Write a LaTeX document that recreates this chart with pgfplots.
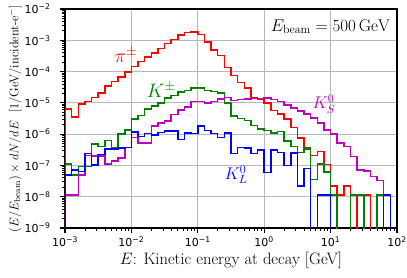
\documentclass[border=0pt]{standalone}
\usepackage{fix-cm}
\usepackage{fontspec}
\usepackage{pgfplots}
\pgfplotsset{compat=1.18}
\usepackage{pgfplotstable}
\newfontfamily\dejavu{DejaVu Sans}
\definecolor{mplred}{rgb}{1,0,0}
\definecolor{mplgreen}{rgb}{0,0.5,0}
\definecolor{mplmag}{rgb}{0.75,0,0.75}
\definecolor{mplblue}{rgb}{0,0,1}
\definecolor{gridgray}{rgb}{0.72,0.72,0.72}

% bin left edges (10 bins per decade) and bin contents; 1e-12 = empty bin
\pgfplotstableread{
x        pi       kpm      ks       kl
0.001     1e-12    1e-12    1e-12    1e-12
0.001     6.31e-6  1.12e-7  1.12e-8  5.01e-8
0.0012589 3.47e-6  5.01e-8  1.12e-8  7.08e-8
0.0015849 9.12e-6  9.33e-8  5.01e-8  6.46e-8
0.0019953 1.10e-5  9.33e-8  2.09e-7  2.45e-7
0.0025119 1.48e-5  4.79e-7  2.0e-7   1.05e-7
0.0031623 2.04e-5  3.98e-7  2.0e-7   2.24e-7
0.0039811 3.47e-5  6.31e-7  1.10e-7  3.39e-7
0.0050119 4.79e-5  3.63e-7  1.38e-7  3.39e-7
0.0063096 6.61e-5  1.02e-6  1.74e-7  3.55e-7
0.0079433 9.55e-5  1.35e-6  3.80e-7  3.80e-7
0.01      1.45e-4  3.02e-6  7.94e-7  1.15e-6
0.012589  2.09e-4  3.98e-6  5.25e-7  8.51e-7
0.015849  2.95e-4  6.31e-6  5.25e-7  1.05e-6
0.019953  3.98e-4  7.94e-6  1.82e-6  9.55e-7
0.025119  5.50e-4  1.0e-5   2.29e-6  1.12e-6
0.031623  7.76e-4  1.41e-5  2.63e-6  1.26e-6
0.039811  1.07e-3  1.70e-5  4.17e-6  1.26e-6
0.050119  1.45e-3  2.19e-5  5.89e-6  6.76e-7
0.063096  1.78e-3  2.51e-5  7.41e-6  1.07e-6
0.079433  1.86e-3  2.95e-5  1.12e-5  1.05e-6
0.1       1.51e-3  2.95e-5  1.10e-5  1.82e-6
0.12589   8.91e-4  2.51e-5  1.0e-5   1.32e-6
0.15849   4.90e-4  2.29e-5  1.12e-5  1.05e-6
0.19953   3.24e-4  2.09e-5  1.35e-5  7.94e-7
0.25119   1.35e-4  1.0e-5   1.48e-5  1.07e-6
0.31623   7.59e-5  3.80e-6  1.20e-5  2.45e-7
0.39811   4.47e-5  3.16e-6  1.26e-5  3.80e-7
0.50119   2.95e-5  2.75e-6  1.35e-5  3.55e-7
0.63096   1.51e-5  1.91e-6  1.38e-5  2.40e-7
0.79433   1.26e-5  1.45e-6  1.38e-5  3.16e-7
1         1.0e-5   1.29e-6  1.45e-5  5.89e-8
1.2589    5.62e-6  1.10e-6  1.26e-5  3.16e-7
1.5849    4.47e-6  1.23e-6  1.12e-5  2.63e-7
1.9953    3.02e-6  6.03e-7  8.51e-6  1.0e-7
2.5119    1.66e-6  4.07e-7  6.76e-6  2.51e-7
3.1623    7.59e-7  2.63e-7  5.50e-6  2.24e-8
3.9811    3.31e-7  3.55e-7  4.37e-6  7.94e-8
5.0119    2.09e-7  3.55e-8  3.31e-6  1e-12
6.3096    2.82e-7  1.10e-7  2.24e-6  1.12e-8
7.9433    1.07e-7  6.17e-8  1.38e-6  1.12e-8
10        2.24e-8  1.12e-8  1.0e-6   1e-12
12.589    1.12e-8  1e-12    5.13e-7  1e-12
15.849    2.24e-8  1e-12    4.07e-7  1e-12
19.953    1.12e-8  1.12e-8  1.95e-7  1e-12
25.119    1e-12    1.12e-8  7.24e-8  1e-12
31.623    1.12e-8  1e-12    6.76e-8  1e-12
39.811    1e-12    1e-12    4.47e-8  1e-12
50.119    1e-12    1.12e-8  3.36e-8  1e-12
63.096    1e-12    1e-12    1e-12    1.12e-8
79.433    1e-12    1e-12    1e-12    1e-12
100       1e-12    1e-12    1e-12    1e-12
100       1e-12    1e-12    1e-12    1e-12
}\hist

\begin{document}
\begin{tikzpicture}
\path[use as bounding box] (-65pt,-50pt) rectangle (342pt,228pt);
\begin{axis}[
  at={(0,0)}, anchor=south west,
  scale only axis, width=332pt, height=219pt,
  xmode=log, ymode=log,
  xmin=1e-3, xmax=1e2, ymin=1e-9, ymax=1e-2,
  xtick={1e-3,1e-2,1e-1,1,1e1,1e2},
  xticklabels={10\textsuperscript{−3},10\textsuperscript{−2},10\textsuperscript{−1},10\textsuperscript{0},10\textsuperscript{1},10\textsuperscript{2}},
  ytick={1e-9,1e-8,1e-7,1e-6,1e-5,1e-4,1e-3,1e-2},
  yticklabels={10\textsuperscript{−9},10\textsuperscript{−8},10\textsuperscript{−7},10\textsuperscript{−6},10\textsuperscript{−5},10\textsuperscript{−4},10\textsuperscript{−3},10\textsuperscript{−2}},
  minor xtick={2e-3,3e-3,4e-3,5e-3,6e-3,7e-3,8e-3,9e-3,2e-2,3e-2,4e-2,5e-2,6e-2,7e-2,8e-2,9e-2,0.2,0.3,0.4,0.5,0.6,0.7,0.8,0.9,2,3,4,5,6,7,8,9,20,30,40,50,60,70,80,90},
  minor ytick={2e-9,3e-9,4e-9,5e-9,6e-9,7e-9,8e-9,9e-9,2e-8,3e-8,4e-8,5e-8,6e-8,7e-8,8e-8,9e-8,2e-7,3e-7,4e-7,5e-7,6e-7,7e-7,8e-7,9e-7,2e-6,3e-6,4e-6,5e-6,6e-6,7e-6,8e-6,9e-6,2e-5,3e-5,4e-5,5e-5,6e-5,7e-5,8e-5,9e-5,2e-4,3e-4,4e-4,5e-4,6e-4,7e-4,8e-4,9e-4,2e-3,3e-3,4e-3,5e-3,6e-3,7e-3,8e-3,9e-3},
  tick pos=left, tick align=outside,
  major tick length=4.9pt, minor tick length=2.8pt,
  major tick style={black, line width=1.1pt},
  minor tick style={black, line width=0.8pt},
  grid=major, major grid style={gridgray, line width=1.1pt},
  minor grid style={draw=none},
  axis line style={black, line width=1.1pt},
  tick label style={font=\dejavu\fontsize{11}{12}\selectfont},
  yticklabel style={xshift=-6pt},
  xlabel={$E$: Kinetic energy at decay [GeV]},
  ylabel={$(E/E_{\mathrm{beam}})\times dN/dE$\ \ [1/GeV/incident-e$^{-}$]},
  every axis x label/.style={at={(axis description cs:0.5,0)}, anchor=base, yshift=-36pt, font=\fontsize{16.5}{20}\selectfont},
  every axis y label/.style={at={(axis description cs:-0.1506,0.5)}, rotate=90, anchor=center, font=\fontsize{12.5}{15}\selectfont},
  clip=true,
]
\addplot[const plot mark left, mplred, line width=1.5pt, no marks] table[x=x, y=pi] {\hist};
\addplot[const plot mark left, mplgreen, line width=1.5pt, no marks] table[x=x, y=kpm] {\hist};
\addplot[const plot mark left, mplmag, line width=1.5pt, no marks] table[x=x, y=ks] {\hist};
\addplot[const plot mark left, mplblue, line width=1.5pt, no marks] table[x=x, y=kl] {\hist};

\node[mplred, font=\fontsize{19.5}{22}\selectfont] at (axis cs:0.0083,3.4e-4) {$\pi^{\pm}$};
\node[mplgreen, font=\fontsize{19.5}{22}\selectfont] at (axis cs:0.0282,2.6e-5) {$K^{\pm}$};
\node[mplmag, font=\fontsize{17}{20}\selectfont] at (axis cs:7.94,9.1e-6) {$K_S^0$};
\node[mplblue, font=\fontsize{17}{20}\selectfont] at (axis cs:0.376,5.0e-8) {$K_L^0$};
\node[anchor=north east, inner sep=0pt, font=\fontsize{17}{20}\selectfont] at (rel axis cs:1,1) [xshift=-7pt, yshift=-10pt] {$E_{\mathrm{beam}} = 500\,\mathrm{GeV}$};
\end{axis}
\end{tikzpicture}
\end{document}
